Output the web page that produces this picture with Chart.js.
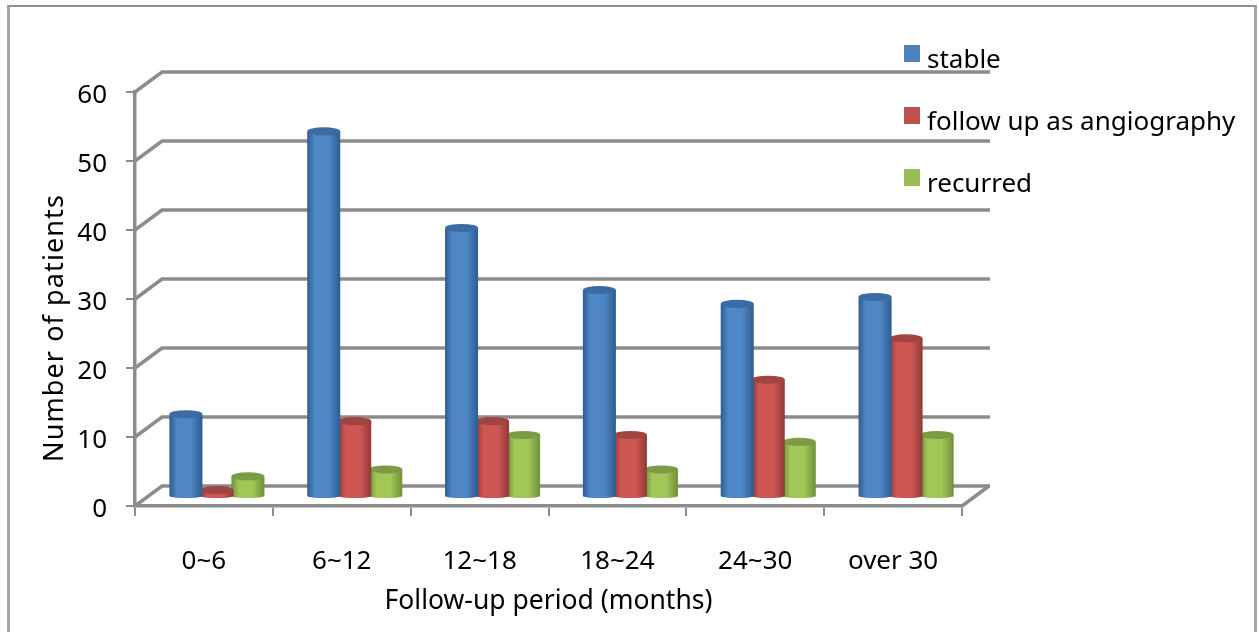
<!DOCTYPE html>
<html>
<head>
<meta charset="utf-8">
<script src="https://cdn.jsdelivr.net/npm/chart.js@4"></script>
<style>
  html, body { margin: 0; padding: 0; background: #fff; overflow: hidden; }
  #wrap { position: relative; width: 1259px; height: 632px; overflow: hidden; }
  #chart { filter: blur(0.5px); }
  #frame { position: absolute; left: 7px; top: 5px; width: 1250px; height: 640px; border: 2px solid #8f8f8f; border-left-width: 3px; border-right-width: 3px; border-left-color: #a6a6a6; border-right-color: #a6a6a6; box-sizing: border-box; pointer-events: none; }
</style>
</head>
<body>
<div id="wrap">
  <canvas id="chart" width="1259" height="632"></canvas>
  <div id="frame"></div>
</div>
<script>
const categories = ["0~6", "6~12", "12~18", "18~24", "24~30", "over 30"];
const stable = [12, 53, 39, 30, 28, 29];
const followUp = [1, 11, 11, 9, 17, 23];
const recurred = [3, 4, 9, 4, 8, 9];
const yTicks = [0, 10, 20, 30, 40, 50, 60];

const FONT = '"Noto Sans", sans-serif';
const GRID = "#8c8c8c";

// offset of the back wall and of the bars from the front axes
const WALL_DX = 27, WALL_DY = -20;
const BAR_DX = 13, BAR_DY = -9;

// one colour set per series: edge, middle, top cap
const shades = [
  { edge: "#2f5c90", mid: "#4f86c6", cap: "#3a6ba3" },
  { edge: "#8f3a38", mid: "#cf5753", cap: "#a04441" },
  { edge: "#6f8f38", mid: "#a3c658", cap: "#7b9b44" },
];

// back wall, floor and side lines
const wall3d = {
  id: "wall3d",
  beforeDatasetsDraw(chart) {
    const { ctx, chartArea, scales } = chart;
    ctx.save();
    ctx.strokeStyle = GRID;
    ctx.lineWidth = 3.5;
    yTicks.forEach((v) => {
      const y = scales.y.getPixelForValue(v);
      ctx.beginPath();
      ctx.moveTo(chartArea.left, y);
      ctx.lineTo(chartArea.left + WALL_DX, y + WALL_DY);
      ctx.lineTo(chartArea.right + WALL_DX + 1, y + WALL_DY);
      ctx.stroke();
    });
    const y0 = scales.y.getPixelForValue(0);
    ctx.beginPath();
    ctx.moveTo(chartArea.right, y0);
    ctx.lineTo(chartArea.right + WALL_DX, y0 + WALL_DY);
    ctx.stroke();
    ctx.restore();
  },
};

// bars are drawn as cylinders from the positions the bar controller computed
const cylinders = {
  id: "cylinders",
  beforeDatasetDraw(chart, args) {
    const { ctx } = chart;
    const s = shades[args.index];
    ctx.save();
    ctx.translate(BAR_DX, BAR_DY);
    args.meta.data.forEach((bar) => {
      const left = bar.x - bar.width / 2;
      const right = bar.x + bar.width / 2;
      const rx = bar.width / 2;
      const g = ctx.createLinearGradient(left, 0, right, 0);
      g.addColorStop(0, s.edge);
      g.addColorStop(0.22, s.mid);
      g.addColorStop(0.65, s.mid);
      g.addColorStop(1, s.edge);
      ctx.fillStyle = g;
      ctx.beginPath();
      ctx.moveTo(left, bar.y);
      ctx.lineTo(left, bar.base);
      ctx.ellipse(bar.x, bar.base, rx, 2, 0, Math.PI, 0, true);
      ctx.lineTo(right, bar.y);
      ctx.closePath();
      ctx.fill();
      ctx.fillStyle = s.cap;
      ctx.beginPath();
      ctx.ellipse(bar.x, bar.y, rx, 4, 0, 0, Math.PI * 2);
      ctx.fill();
    });
    ctx.restore();
    return false;
  },
};

// legend sits over the plot's upper right corner, y title is off centre
const overlay = {
  id: "overlay",
  afterDraw(chart) {
    const { ctx } = chart;
    ctx.save();
    ctx.fillStyle = "#000";
    ctx.font = "26px " + FONT;
    chart.data.datasets.forEach((ds, i) => {
      const y = 45 + i * 62;
      ctx.fillStyle = ds.backgroundColor;
      ctx.fillRect(904, y, 16, 17);
      ctx.fillStyle = "#000";
      ctx.fillText(ds.label, 927, y + 23);
    });
    ctx.translate(55, 328);
    ctx.rotate(-Math.PI / 2);
    ctx.font = "27px " + FONT;
    ctx.letterSpacing = "1.1px";
    ctx.textAlign = "center";
    ctx.textBaseline = "middle";
    ctx.fillText("Number of patients", 0, 0);
    ctx.restore();
  },
};

new Chart(document.getElementById("chart"), {
  type: "bar",
  data: {
    labels: categories,
    datasets: [
      { label: "stable", data: stable, backgroundColor: "#4f81bd" },
      { label: "follow up as angiography", data: followUp, backgroundColor: "#c0504d" },
      { label: "recurred", data: recurred, backgroundColor: "#9bbb59" },
    ],
  },
  plugins: [wall3d, cylinders, overlay],
  options: {
    responsive: false,
    animation: false,
    layout: { padding: { left: 0, top: 92, right: 297, bottom: 15 } },
    categoryPercentage: 0.675,
    barPercentage: 1.065,
    plugins: {
      tooltip: { enabled: false },
      legend: { display: false },
    },
    scales: {
      x: {
        afterFit: (s) => { s.height = 111; },
        grid: { drawOnChartArea: false, color: GRID, lineWidth: 2, tickLength: 10, offset: true },
        border: { color: GRID, width: 3.5 },
        ticks: { color: "#000", font: { family: FONT, size: 26 }, padding: 30, maxRotation: 0 },
        title: { display: true, text: "Follow-up period (months)", color: "#000", font: { family: FONT, size: 26.5 }, padding: { top: 0, bottom: 0 } },
      },
      y: {
        min: 0,
        max: 60,
        afterFit: (s) => { s.width = 135; },
        afterBuildTicks: (s) => { s.ticks = yTicks.map((v) => ({ value: v })); },
        grid: { drawOnChartArea: false, color: GRID, lineWidth: 2, tickLength: 9 },
        border: { color: GRID, width: 3.5 },
        ticks: { color: "#000", font: { family: FONT, size: 26 }, padding: 19, labelOffset: 4 },
      },
    },
  },
});
</script>
</body>
</html>
